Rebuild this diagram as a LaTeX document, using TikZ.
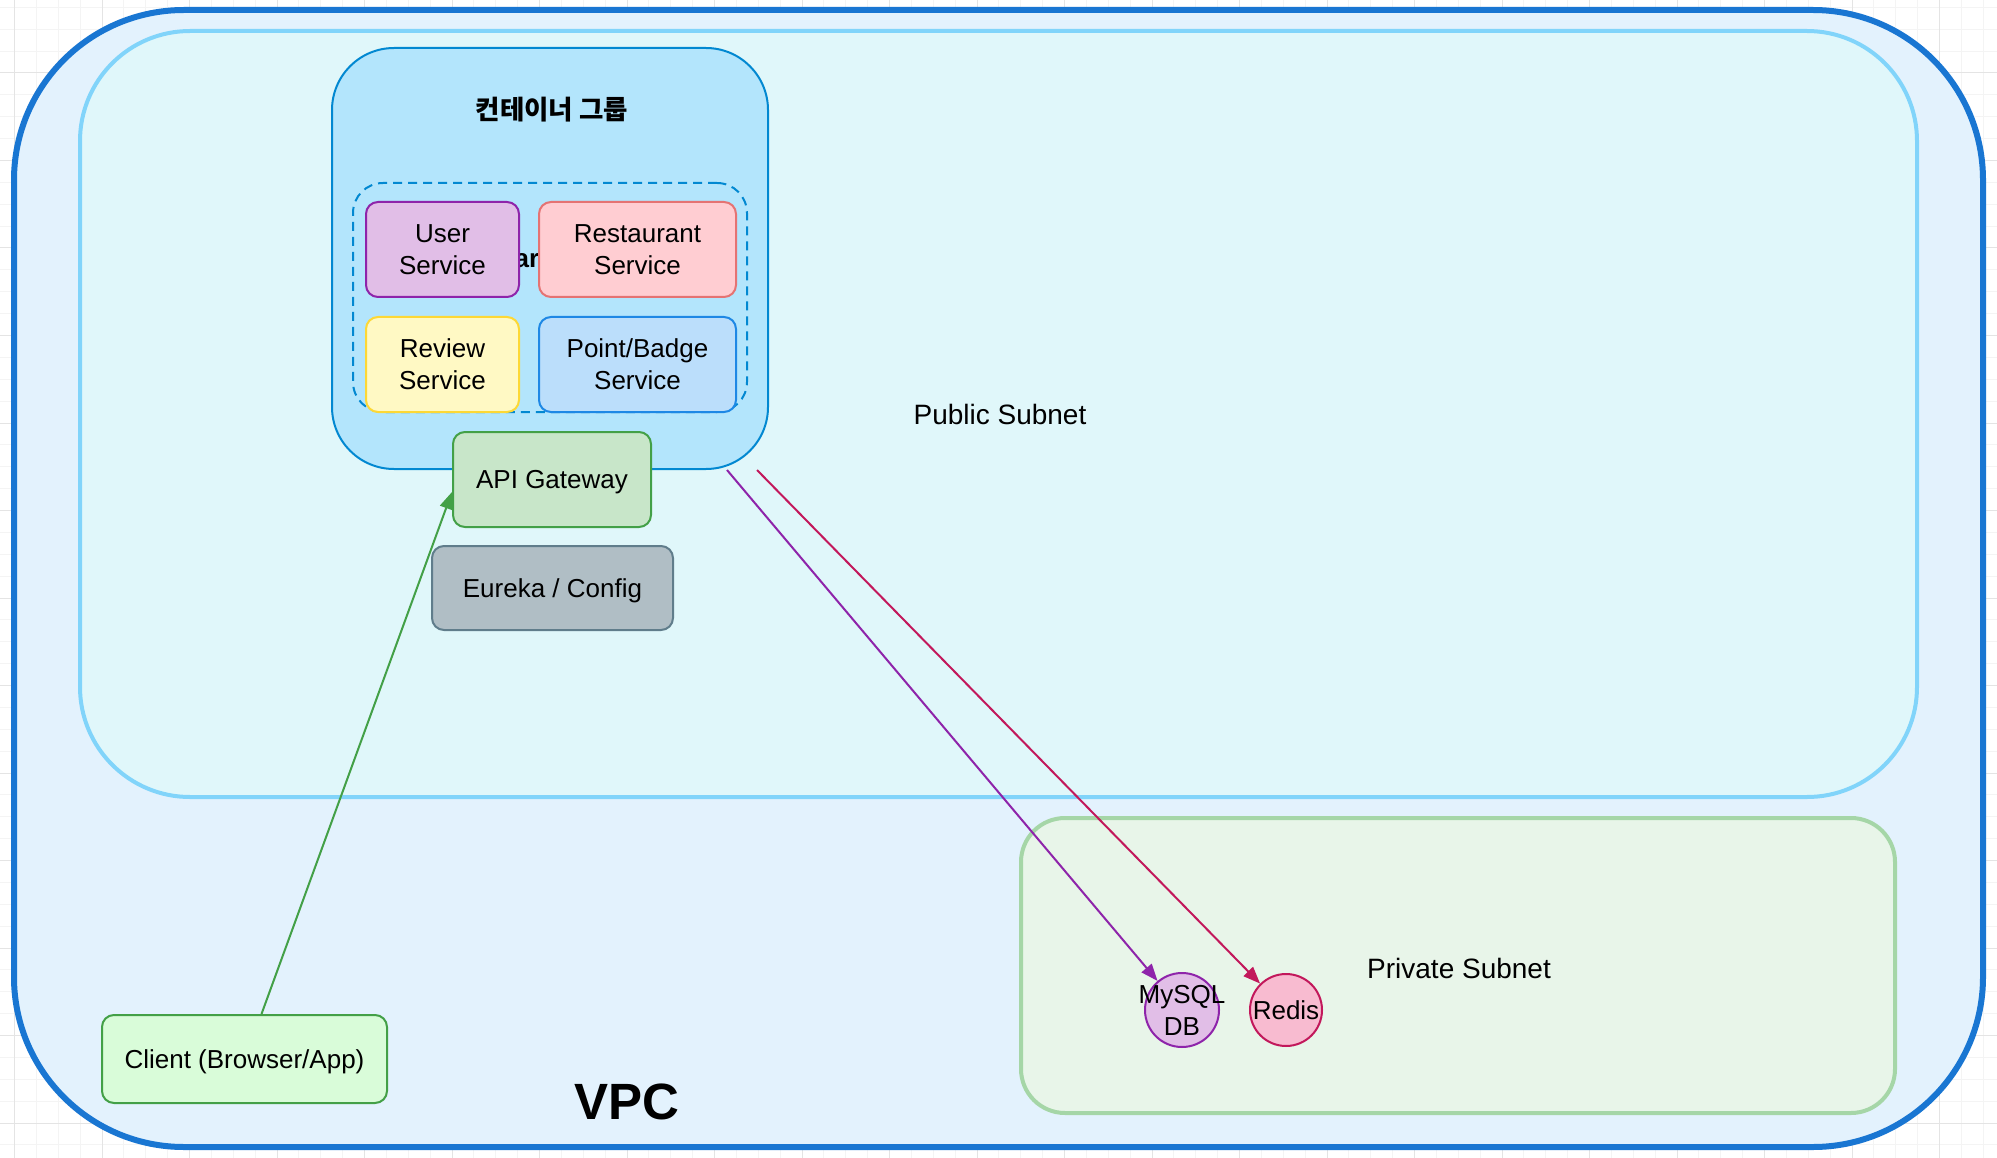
\documentclass[tikz,border=0pt]{standalone}
\usepackage{fontspec}
\setmainfont{Liberation Sans}
\newfontfamily\kr{Noto Sans CJK KR}
\usetikzlibrary{arrows.meta}
\definecolor{vpcS}{HTML}{1976D2}
\definecolor{vpcF}{HTML}{E3F2FD}
\definecolor{pubS}{HTML}{81D4FA}
\definecolor{pubF}{HTML}{E0F7FA}
\definecolor{prvS}{HTML}{A5D6A7}
\definecolor{prvF}{HTML}{E8F5E9}
\definecolor{cgS}{HTML}{0288D1}
\definecolor{cgF}{HTML}{B3E5FC}
\definecolor{purS}{HTML}{8E24AA}
\definecolor{purF}{HTML}{E1BEE7}
\definecolor{redS}{HTML}{E57373}
\definecolor{redF}{HTML}{FFCDD2}
\definecolor{yelS}{HTML}{FDD835}
\definecolor{yelF}{HTML}{FFF9C4}
\definecolor{bluS}{HTML}{1E88E5}
\definecolor{bluF}{HTML}{BBDEFB}
\definecolor{grnS}{HTML}{43A047}
\definecolor{grnF}{HTML}{C8E6C9}
\definecolor{cliF}{HTML}{D9FCD9}
\definecolor{gryS}{HTML}{607D8B}
\definecolor{gryF}{HTML}{B0BEC5}
\definecolor{pnkS}{HTML}{C2185B}
\definecolor{pnkF}{HTML}{F8BBD0}
\definecolor{gridMinor}{HTML}{F4F4F4}
\definecolor{gridMajor}{HTML}{E4E4E4}
\tikzset{
  txt/.style={font=\fontsize{26}{32}\selectfont, align=center, inner sep=0pt, text depth=0pt},
  svc/.style={draw, line width=2pt, rounded corners=12pt, inner sep=0pt, align=center, text depth=0pt, font=\fontsize{26}{32}\selectfont},
  area/.style={draw, inner sep=0pt},
  conn/.style={line width=2pt, -{Triangle[length=17pt, width=13pt]}},
  minorline/.style={gridMinor, line width=1pt},
  majorline/.style={gridMajor, line width=1pt},
}
\begin{document}
\begin{tikzpicture}[x=1pt, y=-1pt]
\useasboundingbox (0,0) rectangle (1997,1158);
\fill[white] (0,0) rectangle (1997,1158);
% background grid
\foreach \i in {0,...,91} {
  \pgfmathsetmacro\xx{14.5+\i*21.875}
  \draw[minorline] (\xx,0) -- (\xx,1158);
}
\foreach \i in {0,...,52} {
  \pgfmathsetmacro\yy{7.375+\i*21.875}
  \draw[minorline] (0,\yy) -- (1997,\yy);
}
\foreach \i in {0,...,22} {
  \pgfmathsetmacro\xx{14.5+\i*87.5}
  \draw[majorline] (\xx,0) -- (\xx,1158);
}
\foreach \i in {0,...,12} {
  \pgfmathsetmacro\yy{73+\i*87.5}
  \draw[majorline] (0,\yy) -- (1997,\yy);
}
% containers
\node[area, draw=vpcS, fill=vpcF, line width=6pt, rounded corners=170pt, minimum width=1969pt, minimum height=1137pt] (vpc) at (998.5,578.5) {};
\node[area, draw=pubS, fill=pubF, line width=4pt, rounded corners=110pt, minimum width=1837pt, minimum height=766pt] (pub) at (998.5,414) {};
\node[area, draw=prvS, fill=prvF, line width=4pt, rounded corners=44pt, minimum width=874pt, minimum height=295pt] (prv) at (1458,965.5) {};
\node[area, draw=cgS, fill=cgF, line width=2pt, rounded corners=62pt, minimum width=436pt, minimum height=421pt] (cg) at (550,258.5) {};
\node[font=\kr\bfseries\fontsize{26.5}{30}\selectfont, inner sep=0pt] (cgt) at (552,110) {컨테이너 그룹};
\node[area, draw=cgS, dash pattern=on 9pt off 6pt, line width=2pt, rounded corners=30pt, minimum width=394pt, minimum height=229pt] (grp) at (550,297.5) {};
\node[txt, font=\bfseries\fontsize{26}{32}\selectfont] (hid) at (527,260) {ar};
% services
\node[svc, draw=purS, fill=purF, minimum width=153pt, minimum height=95pt] (user) at (442.5,249.5) {User\\Service};
\node[svc, draw=redS, fill=redF, minimum width=197pt, minimum height=95pt] (rest) at (637.5,249.5) {Restaurant\\Service};
\node[svc, draw=yelS, fill=yelF, minimum width=153pt, minimum height=95pt] (rev) at (442.5,364.5) {Review\\Service};
\node[svc, draw=bluS, fill=bluF, minimum width=197pt, minimum height=95pt] (pb) at (637.5,364.5) {Point/Badge\\Service};
\node[svc, draw=grnS, fill=grnF, minimum width=198pt, minimum height=95pt] (api) at (552,479.5) {API Gateway};
\node[svc, draw=gryS, fill=gryF, minimum width=241pt, minimum height=84pt] (eur) at (552.5,588) {Eureka / Config};
\node[svc, draw=grnS, fill=cliF, minimum width=285pt, minimum height=88pt] (client) at (244.5,1059) {Client (Browser/App)};
% databases
\node[circle, draw=purS, fill=purF, line width=2pt, minimum size=74pt, inner sep=0pt] (mysql) at (1182,1010) {};
\node[txt] (mysqlt) at (mysql.center) {MySQL\\DB};
\node[circle, draw=pnkS, fill=pnkF, line width=2pt, minimum size=72pt, inner sep=0pt] (redis) at (1286,1010) {};
\node[txt] (redist) at (redis.center) {Redis};
% labels
\node[txt, font=\fontsize{28}{32}\selectfont] (publbl) at (1000,414) {Public Subnet};
\node[txt, font=\fontsize{28}{32}\selectfont] (prvlbl) at (1459,968) {Private Subnet};
\node[txt, font=\bfseries\fontsize{51}{56}\selectfont] (vpclbl) at (627,1102) {VPC};
% connectors
\coordinate (pstart) at (727,470);
\coordinate (rstart) at (757,470);
\draw[conn, grnS] ([xshift=17pt]client.north) -- ([yshift=-12.5pt]api.west);
\draw[conn, purS] (pstart) -- (mysql);
\draw[conn, pnkS] (rstart) -- (redis);
\end{tikzpicture}
\end{document}
